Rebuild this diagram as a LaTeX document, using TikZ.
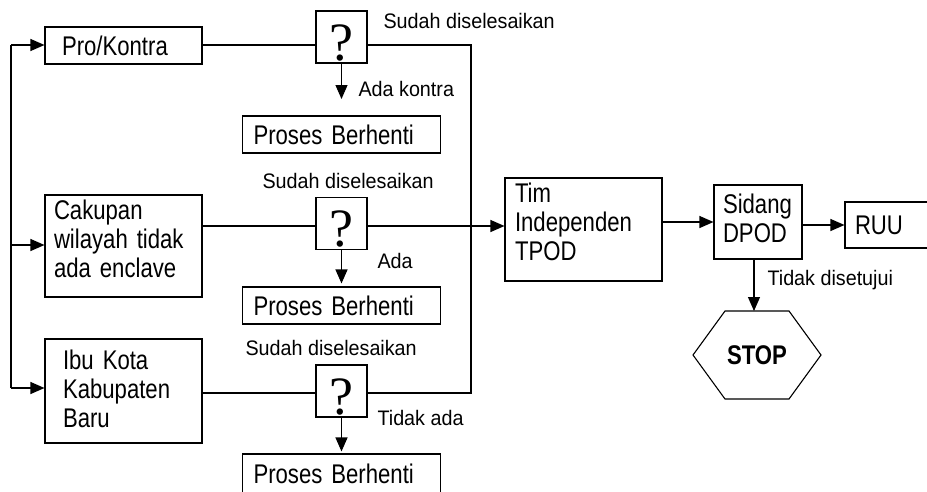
\documentclass[tikz,border=0pt]{standalone}
\usepackage{fontspec}
\setmainfont{Liberation Sans}[FakeStretch=0.82]
\newfontfamily\ketfont{Liberation Sans}[FakeStretch=0.94]
\newfontfamily\tanyafont{Liberation Serif}
\usetikzlibrary{arrows.meta}

\tikzset{
  kotak/.style={draw, rectangle, align=left, inner xsep=9.5pt, inner ysep=0pt,
    font=\fontsize{27}{29}\selectfont},
  atas/.style={text height=0pt, text depth=#1},
  tanya/.style={draw, rectangle, minimum width=51pt, minimum height=52pt,
    inner sep=0pt, text height=46pt, text depth=0pt,
    font=\tanyafont\fontsize{54}{54}\selectfont},
  ket/.style={inner sep=0pt, anchor=base west, font=\ketfont\fontsize{21}{24}\selectfont},
  panah/.style={-{Triangle[length=14pt,width=12pt]}},
}

\begin{document}
\begin{tikzpicture}[x=1pt, y=-1pt, line width=1.1pt]
\useasboundingbox (0,0) rectangle (927,491);

% Syarat.
\node[kotak, minimum width=157pt, minimum height=37pt, inner xsep=17pt, text width=123pt] (pro) at (123.5,45.5) {Pro/Kontra};
\node[kotak, atas=54pt, minimum width=157pt, minimum height=102pt, inner xsep=9pt, text width=139pt] (cakupan) at (123.5,246) {Cakupan\\wilayah tidak\\ada enclave};
\node[kotak, atas=44pt, minimum width=157pt, minimum height=104pt, inner xsep=18pt, text width=121pt] (ibukota) at (123.5,391) {Ibu Kota\\Kabupaten\\Baru};

% Pertanyaan.
\foreach \n/\y in {1/37,2/223.5,3/391} {
  \node[tanya] (tanya\n) at (341.5,\y) {?};
}
\foreach \n/\y/\h in {1/134.5/37,2/305.5/37,3/474/40} {
  \node[kotak, minimum width=198pt, minimum height=\h pt, inner xsep=11pt, text width=176pt] (henti\n) at (341.5,\y) {Proses Berhenti};
}

% Hasil.
\node[kotak, atas=54pt, minimum width=157pt, minimum height=103pt, inner xsep=10pt, text width=137pt] (tim) at (583.5,229.5) {Tim\\Independen\\TPOD};
\node[kotak, atas=18pt, minimum width=88pt, minimum height=74pt, inner xsep=9pt, text width=70pt] (sidang) at (758,222) {Sidang\\DPOD};
\node[kotak, minimum width=95pt, minimum height=46pt, inner xsep=10pt, text width=75pt] (ruu) at (892.5,225) {RUU};
\node[font=\bfseries\fontsize{27}{29}\selectfont] (stop) at (757,355) {STOP};
\draw[shift={(stop)}] (-32,-44) -- (32,-44) -- (64,0) -- (32,44) -- (-32,44) -- (-64,0) -- cycle;

% Garis kiri.
\coordinate (kiri1) at (11,45);
\coordinate (kiri2) at (11,245);
\coordinate (kiri3) at (11,388);
\draw (kiri1) -- (kiri3);
\draw[panah] (kiri1) -- (pro.west |- kiri1);
\draw[panah] (kiri2) -- (cakupan.west |- kiri2);
\draw[panah] (kiri3) -- (ibukota.west |- kiri3);

% Garis kanan.
\coordinate (kanan1) at (471,45);
\coordinate (kanan2) at (471,226);
\coordinate (kanan3) at (471,393);
\draw (pro.east |- kanan1) -- (tanya1.west |- kanan1);
\draw (tanya1.east |- kanan1) -- (kanan1) -- (kanan3) -- (tanya3.east |- kanan3);
\draw (cakupan.east |- kanan2) -- (tanya2.west |- kanan2);
\draw[panah] (tanya2.east |- kanan2) -- (tim.west |- kanan2);
\draw (ibukota.east |- kanan3) -- (tanya3.west |- kanan3);

% Ke bawah.
\coordinate (ujung1) at (341.5,99);
\draw[panah] (tanya1) -- (ujung1);
\draw[panah, shorten >=3pt] (tanya2) -- (henti2);
\draw[panah, shorten >=2pt] (tanya3) -- (henti3);

% Sidang.
\draw[panah] (tim.east |- sidang) -- (sidang);
\draw[panah] (sidang.east |- ruu) -- (ruu);
\coordinate (stopatas) at (754,311);
\draw[panah] (sidang.south -| stopatas) -- (stopatas);

% Keterangan.
\node[ket] (sudah1) at (383,28) {Sudah diselesaikan};
\node[ket] (kontra) at (358,96) {Ada kontra};
\node[ket] (sudah2) at (262,188) {Sudah diselesaikan};
\node[ket] (ada) at (377,268) {Ada};
\node[ket] (sudah3) at (245,355) {Sudah diselesaikan};
\node[ket] (tidakada) at (377,425) {Tidak ada};
\node[ket] (tidaksetuju) at (767,285) {Tidak disetujui};
\end{tikzpicture}
\end{document}
